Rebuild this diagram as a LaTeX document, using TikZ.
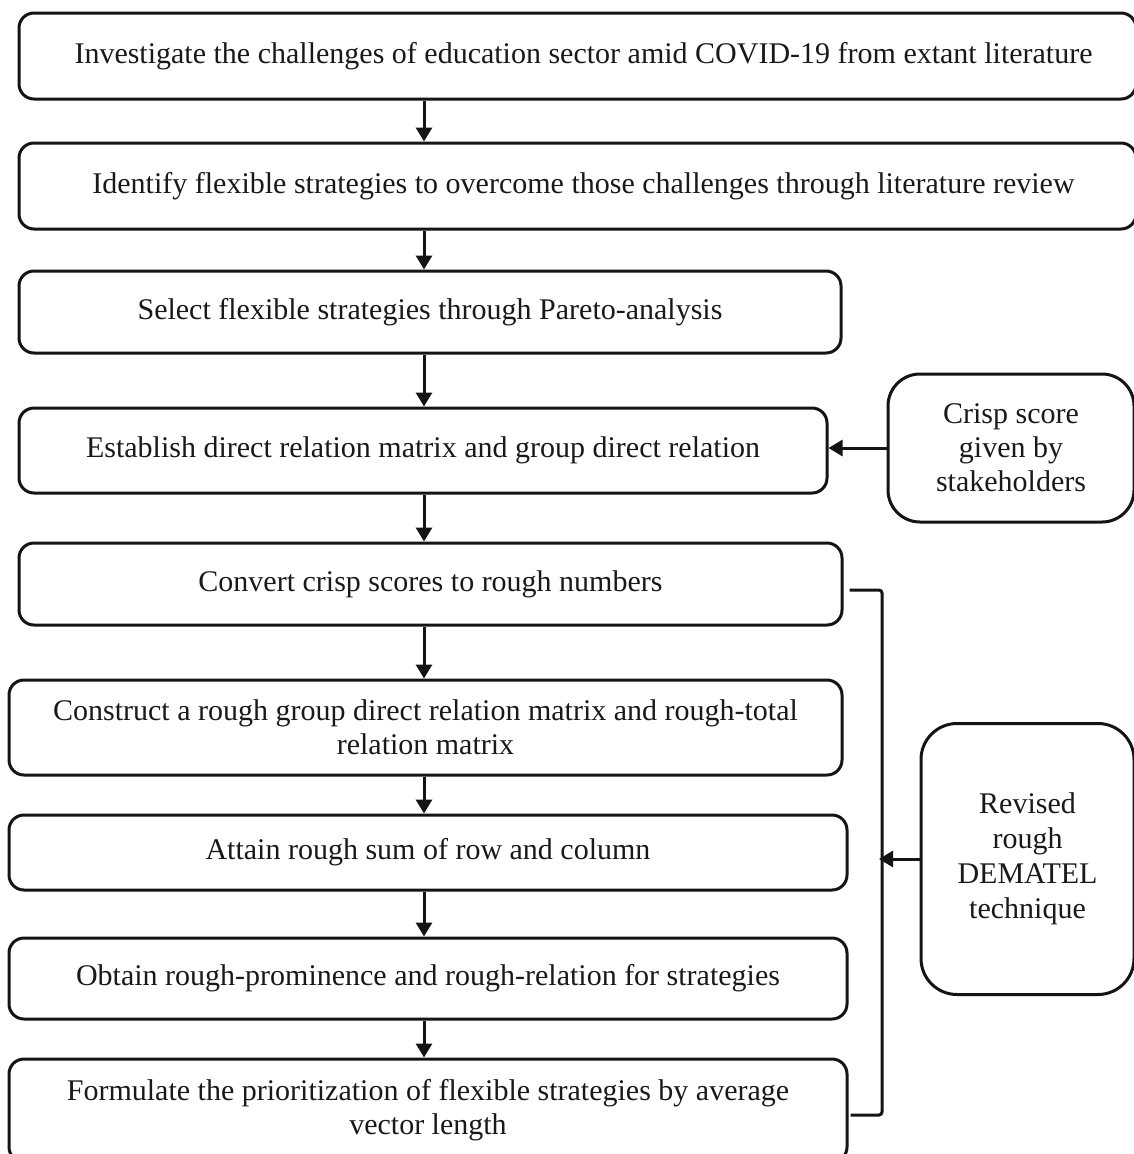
\documentclass[tikz,border=0pt]{standalone}
\usepackage{fontspec}
\setmainfont{Liberation Serif}
\usetikzlibrary{arrows.meta}
\begin{document}
\begin{tikzpicture}[x=1pt,y=-1pt,
  box/.style={draw=black!92, line width=3pt, rounded corners=15pt, inner sep=0pt,
    align=center, text=black!90, font=\fontsize{30}{34}\selectfont},
  sidebox/.style={box, rounded corners=32pt},
  arr/.style={draw=black!92, line width=3pt, -{Triangle[width=16pt,length=14pt]}},
  conn/.style={draw=black!92, line width=3pt, rounded corners=3pt},
]
\useasboundingbox (0,0) rectangle (1134,1154);

\node[box, minimum width=1117pt, minimum height=86pt] (b1) at (577.5,56)
  {\hspace*{12pt}Investigate the challenges of education sector amid COVID-19 from extant literature};
\node[box, minimum width=1117pt, minimum height=86pt] (b2) at (577.5,186)
  {\hspace*{12pt}Identify flexible strategies to overcome those challenges through literature review};
\node[box, minimum width=822pt, minimum height=82pt] (b3) at (430,312)
  {Select flexible strategies through Pareto-analysis};
\node[box, minimum width=808pt, minimum height=85pt] (b4) at (423,450.5)
  {Establish direct relation matrix and group direct relation};
\node[box, minimum width=823pt, minimum height=82pt] (b5) at (430.5,584)
  {Convert crisp scores to rough numbers};
\node[box, minimum width=833pt, minimum height=95pt] (b6) at (425.5,727.5)
  {Construct a rough group direct relation matrix and rough-total\\relation matrix};
\node[box, minimum width=838pt, minimum height=75pt] (b7) at (428,852.5)
  {Attain rough sum of row and column};
\node[box, minimum width=838pt, minimum height=81pt] (b8) at (428,978.5)
  {Obtain rough-prominence and rough-relation for strategies};
\node[box, minimum width=838pt, minimum height=103pt] (b9) at (428,1110.5)
  {Formulate the prioritization of flexible strategies by average\\vector length};

\node[sidebox, minimum width=246pt, minimum height=148pt] (crisp) at (1011,448)
  {Crisp score\\given by\\stakeholders};
\node[sidebox, rounded corners=36pt, minimum width=213pt, minimum height=271pt,
  font=\fontsize{30}{35}\selectfont] (rev) at (1027.5,859)
  {Revised\\rough\\DEMATEL\\technique};

\coordinate (ax) at (424,0);
\foreach \a/\b in {b1/b2,b2/b3,b3/b4,b4/b5,b5/b6,b6/b7,b7/b8,b8/b9}
  \draw[arr] (\a.south -| ax) -- (\b.north -| ax);

\draw[arr] (crisp.west) -- (crisp.west -| b4.east);

\coordinate (brtop) at (882,590);
\coordinate (brbot) at (882,1115);
\draw[conn] ([xshift=6pt]b5.east |- brtop) -- (brtop) -- (brbot) -- ([xshift=2pt]b9.east |- brbot);
\draw[arr] (rev.west) -- ([xshift=-3pt]rev.west -| brtop);
\end{tikzpicture}
\end{document}
